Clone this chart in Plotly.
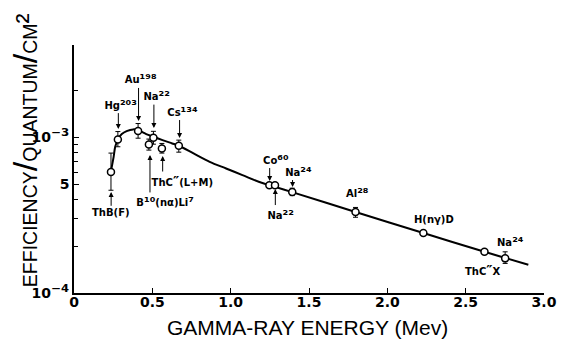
import numpy as np
import plotly.graph_objects as go

# ---- data ----
point_energy = [0.236, 0.280, 0.409, 0.507, 0.478, 0.561, 0.669,
                1.247, 1.283, 1.393, 1.797, 2.230, 2.620, 2.752]
point_eff = [6.01e-4, 9.72e-4, 1.10e-3, 9.96e-4, 9.03e-4, 8.51e-4, 8.85e-4,
             4.94e-4, 4.94e-4, 4.47e-4, 3.32e-4, 2.43e-4, 1.84e-4, 1.67e-4]
err_plus = [1.93e-4, 1.2e-4, 1.3e-4, 1.0e-4, 0.74e-4, 0.65e-4, 0.77e-4,
            0, 0, 0.25e-4, 0.23e-4, 0, 0, 0.17e-4]
err_minus = [1.43e-4, 1.0e-4, 1.1e-4, 0.9e-4, 0.73e-4, 0.57e-4, 0.8e-4,
             0, 0, 0.24e-4, 0.25e-4, 0, 0, 0.12e-4]

curve_energy = [0.236, 0.253, 0.263, 0.280, 0.305, 0.336, 0.378, 0.409, 0.461,
                0.507, 0.565, 0.627, 0.669, 0.763, 0.866, 0.971, 1.075, 1.179,
                1.247, 1.387, 1.797, 2.230, 2.620, 2.900]
curve_eff = [6.08e-4, 7.51e-4, 8.71e-4, 9.72e-4, 1.052e-3, 1.10e-3, 1.128e-3,
             1.116e-3, 1.052e-3, 1.011e-3, 9.62e-4, 9.16e-4, 8.85e-4, 7.90e-4,
             6.98e-4, 6.32e-4, 5.73e-4, 5.19e-4, 4.94e-4, 4.47e-4, 3.32e-4,
             2.43e-4, 1.84e-4, 1.52e-4]

x_tickvals = [0, 0.5, 1.0, 1.5, 2.0, 2.5, 3.0]
x_ticktext = ["0", "0.5", "1.0", "1.5", "2.0", "2.5", "3.0"]
y_tickvals = [1e-4, 5e-4, 1e-3]


def sup(s, size=13):
    """Unicode superscript characters, enlarged a little like the lettering."""
    return '<span style="font-size:%dpx">%s</span>' % (size, s)


y_ticktext = ["10" + sup("⁻⁴", 19), "5", "10" + sup("⁻³", 19)]
y_minor = [2e-4, 3e-4, 4e-4, 6e-4, 7e-4, 8e-4, 9e-4, 2e-3]

# source labels with arrows:
# text, arrow-tip energy, arrow-tip efficiency, label efficiency, box width px
arrow_labels = [
    ("Hg" + sup("²⁰³"), 0.283, 1.135e-3, 1.64e-3, 38),
    ("Au" + sup("¹⁹⁸"), 0.412, 1.277e-3, 2.38e-3, 36),
    ("Na" + sup("²²"), 0.510, 1.151e-3, 1.86e-3, 32),
    ("Cs" + sup("¹³⁴"), 0.674, 9.93e-4, 1.48e-3, 36),
    ("ThB(F)", 0.237, 4.46e-4, 3.28e-4, None),
    ("B" + sup("¹⁰") + "(nα)Li" + sup("⁷"), 0.485, 7.72e-4, 3.88e-4, 88),
    ("ThC" + sup("″", 14) + "(L+M)", 0.566, 7.60e-4, 5.25e-4, 100),
    ("Co" + sup("⁶⁰"), 1.249, 5.25e-4, 7.27e-4, 38),
    ("Na" + sup("²²"), 1.285, 4.67e-4, 3.22e-4, 37),
    ("Na" + sup("²⁴"), 1.395, 4.81e-4, 6.09e-4, 38),
]
# source labels without arrows: text, energy, efficiency
plain_labels = [
    ("Al" + sup("²⁸"), 1.810, 4.46e-4),
    ("H(nγ)D", 2.298, 2.98e-4),
    ("ThC" + sup("″", 14) + "X", 2.613, 1.41e-4),
    ("Na" + sup("²⁴"), 2.788, 2.14e-4),
]

label_font = dict(family="DejaVu Sans", size=10, color="black", weight="bold")

fig = go.Figure()
fig.add_trace(go.Scatter(
    x=curve_energy, y=curve_eff, mode="lines",
    line=dict(color="black", width=2, shape="spline", smoothing=0.8),
    hoverinfo="skip", showlegend=False))
fig.add_trace(go.Scatter(
    x=point_energy, y=point_eff, mode="markers",
    marker=dict(symbol="circle", size=7, color="white",
                line=dict(color="black", width=1.5)),
    error_y=dict(type="data", array=err_plus, arrayminus=err_minus,
                 color="black", thickness=1, width=2.5),
    showlegend=False))

annotations = []
for text, tx, ty, ly, w in arrow_labels:
    a = dict(
        x=tx, y=np.log10(ty), xref="x", yref="y",
        ax=tx, ay=np.log10(ly), axref="x", ayref="y",
        text=text, showarrow=True, arrowhead=2, arrowsize=1, arrowwidth=1,
        arrowcolor="black", font=label_font)
    if w is not None:
        a["width"] = w
        a["align"] = "right"
    annotations.append(a)
for text, ex, ey in plain_labels:
    annotations.append(dict(
        x=ex, y=np.log10(ey), xref="x", yref="y", text=text, showarrow=False,
        font=label_font, xanchor="center", yanchor="middle"))

fig.update_layout(
    width=569, height=339,
    margin=dict(l=74, r=14, t=45, b=46),
    paper_bgcolor="white", plot_bgcolor="white",
    xaxis=dict(range=[0, 3.0], showline=True, linecolor="black", linewidth=1.5,
               ticks="inside", ticklen=5, tickwidth=1.2, tickcolor="black",
               tickvals=x_tickvals, ticktext=x_ticktext, showgrid=False,
               zeroline=False, ticklabelstandoff=-5,
               tickfont=dict(family="DejaVu Sans", size=14, color="black",
                             weight="bold")),
    yaxis=dict(type="log", range=[-4, -2.405], showline=True,
               linecolor="black", linewidth=1.5,
               ticks="inside", ticklen=5, tickwidth=1.2, tickcolor="black",
               tickvals=y_tickvals, ticktext=y_ticktext, showgrid=False,
               zeroline=False,
               minor=dict(tickmode="array", tickvals=y_minor, ticks="inside",
                          ticklen=4, tickcolor="black", tickwidth=1.2,
                          showgrid=False),
               tickfont=dict(family="DejaVu Sans", size=14, color="black",
                             weight="bold")),
    annotations=annotations,
)

# axis titles as free text (positions in paper fraction of the plot area)
fig.add_annotation(
    x=(313 - 74) / 481, y=(293 - 327.5) / 248, xref="paper", yref="paper",
    text="GAMMA-RAY ENERGY (Mev)", showarrow=False,
    font=dict(family="Liberation Sans", size=21, color="black"),
    xanchor="center", yanchor="middle")
slash = '<span style="font-size:34px">/</span>'
fig.add_annotation(
    x=(24 - 74) / 481, y=(293 - 150) / 248, xref="paper", yref="paper",
    text="EFFICIENCY" + slash + "QUANTUM" + slash + "CM" + sup("²", 30),
    showarrow=False, textangle=-90,
    font=dict(family="Liberation Sans", size=19.5, color="black"),
    xanchor="center", yanchor="middle")

fig.write_html("out.html")
